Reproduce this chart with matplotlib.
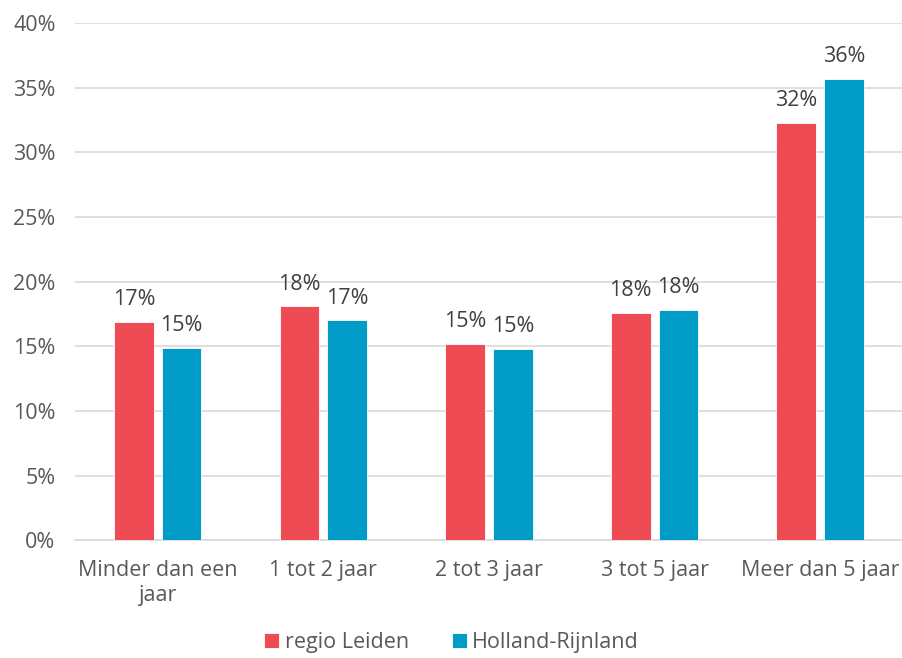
import matplotlib.pyplot as plt
import numpy as np

plt.rcParams['font.family'] = ['Open Sans', 'DejaVu Sans']

categories = ['Minder dan een\njaar', '1 tot 2 jaar', '2 tot 3 jaar', '3 tot 5 jaar', 'Meer dan 5 jaar']
leiden = [16.9, 18.1, 15.2, 17.6, 32.3]
holland = [14.9, 17.0, 14.8, 17.8, 35.7]
leiden_labels = ['17%', '18%', '15%', '18%', '32%']
holland_labels = ['15%', '17%', '15%', '18%', '36%']

red = '#EF4B55'
blue = '#009CC7'

fig = plt.figure(figsize=(9.03, 6.58), dpi=100)
ax = fig.add_axes([0.083, 0.179, 0.917, 0.786])

x = np.arange(len(categories))
w = 0.24
off = 0.144
b1 = ax.bar(x - off, leiden, w, color=red, edgecolor='white', linewidth=0.6, label='regio Leiden', zorder=3)
b2 = ax.bar(x + off, holland, w, color=blue, edgecolor='white', linewidth=0.6, label='Holland-Rijnland', zorder=3)

for bars, labs in [(b1, leiden_labels), (b2, holland_labels)]:
    for bar, lab in zip(bars, labs):
        ax.text(bar.get_x() + bar.get_width() / 2, bar.get_height() + 0.9, lab,
                ha='center', va='bottom', fontsize=15.5, color='#404040')

ax.set_xlim(-0.5, 4.5)
ax.set_ylim(0, 40)
ax.set_yticks(np.arange(0, 41, 5))
ax.set_yticklabels([f'{v}%' for v in range(0, 41, 5)])
ax.set_xticks(x)
ax.set_xticklabels(categories, linespacing=1.25)
ax.tick_params(axis='both', length=0, labelsize=15.5, labelcolor='#595959')
ax.tick_params(axis='y', pad=14)
ax.tick_params(axis='x', pad=14)
ax.grid(axis='y', color='#D9D9D9', linewidth=1.2, zorder=0)
for s in ['top', 'right', 'left']:
    ax.spines[s].set_visible(False)
ax.spines['bottom'].set_color('#D9D9D9')
ax.spines['bottom'].set_linewidth(1.2)

leg = fig.legend(loc='lower center', bbox_to_anchor=(0.5, -0.022), ncol=2, frameon=False,
                 fontsize=15.5, handlelength=0.7, handleheight=0.7, handletextpad=0.25,
                 columnspacing=2.0, labelcolor='#595959')

fig.savefig('out.png', dpi=100)
